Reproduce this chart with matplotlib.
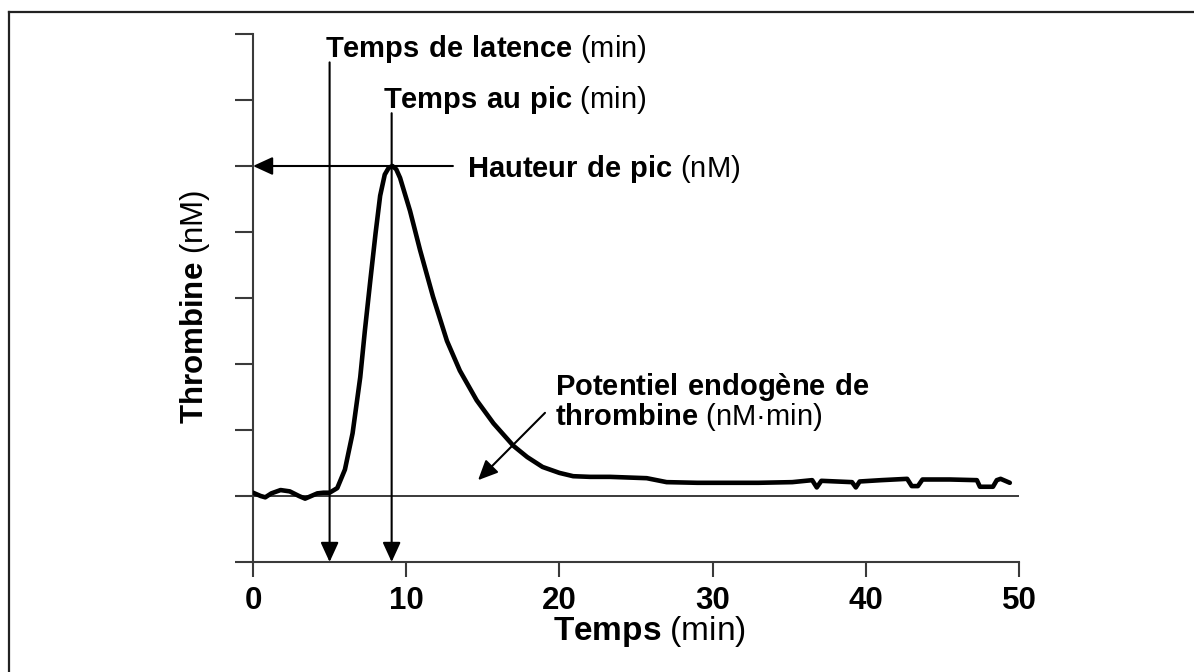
import matplotlib
matplotlib.use("Agg")
import matplotlib.pyplot as plt
from matplotlib.lines import Line2D

plt.rcParams['font.family'] = ['Liberation Sans', 'DejaVu Sans']
plt.rcParams['mathtext.fontset'] = 'custom'
plt.rcParams['mathtext.rm'] = 'Liberation Sans'
plt.rcParams['mathtext.bf'] = 'Liberation Sans:bold'

# courbe de génération de thrombine
temps = [0, 0.5, 0.8, 1.2, 1.8, 2.4, 3.0, 3.4, 3.8, 4.2, 4.6, 5.0, 5.5, 6.0, 6.5,
         7.0, 7.3, 7.65, 8.0, 8.3, 8.6, 8.85, 9.1, 9.35, 9.6, 10.25, 10.9, 11.75,
         12.66, 13.5, 14.6, 15.7, 17.0, 17.9, 18.9, 20.0, 20.9, 22.0, 23.3, 24.5,
         25.7, 27.0, 29.0, 30.9, 33.0, 35.2, 36.5, 36.8, 37.1, 39.1, 39.35, 39.6,
         41.0, 42.7, 43.0, 43.4, 43.7, 45.5, 47.25, 47.45, 48.3, 48.55, 48.8, 49.4]
thrombine = [0.05, 0.0, -0.02, 0.04, 0.09, 0.07, 0.0, -0.04, 0.0, 0.04, 0.05, 0.05,
             0.12, 0.4, 0.95, 1.8, 2.5, 3.25, 3.98, 4.55, 4.87, 4.97, 5.0, 4.95,
             4.82, 4.32, 3.73, 3.02, 2.35, 1.9, 1.45, 1.1, 0.76, 0.59, 0.44, 0.35,
             0.30, 0.29, 0.29, 0.28, 0.27, 0.21, 0.20, 0.20, 0.20, 0.21, 0.24, 0.13,
             0.23, 0.21, 0.13, 0.22, 0.24, 0.26, 0.15, 0.15, 0.25, 0.25, 0.24, 0.14,
             0.14, 0.24, 0.26, 0.20]

x_ticks = [0, 10, 20, 30, 40, 50]
y_ticks = [-1, 0, 1, 2, 3, 4, 5, 6, 7]

t_latence = 5.0
t_pic = 9.05
h_pic = 5.0

gris = '#3a3a3a'

fig = plt.figure(figsize=(11.94, 6.72), dpi=100)
ax = fig.add_axes([253/1194, 110/672, 766/1194, 528/672])

ax.plot(temps, thrombine, color='black', lw=3.3, solid_capstyle='round',
        solid_joinstyle='round', zorder=3)
ax.axhline(0, color=gris, lw=1.4, zorder=1)

ax.set_xlim(0, 50)
ax.set_ylim(-1, 7)
for s in ['top', 'right']:
    ax.spines[s].set_visible(False)
for s in ['left', 'bottom']:
    ax.spines[s].set_color(gris)
    ax.spines[s].set_linewidth(1.5)

ax.set_yticks(y_ticks)
ax.set_yticklabels([])
ax.tick_params(axis='y', length=13, width=1.5, color=gris, direction='out')
ax.set_xticks(x_ticks)
ax.set_xticklabels([str(v) for v in x_ticks], fontsize=22.5, fontweight='bold')
ax.tick_params(axis='x', length=11, width=1.5, color=gris, direction='out', pad=6)

# flèches
fleche = dict(arrowstyle='-|>,head_length=12,head_width=5.5', color='black',
              lw=1.5, shrinkA=0, shrinkB=0, mutation_scale=1)
ax.annotate('', xy=(t_latence, -1), xytext=(t_latence, 6.57), arrowprops=fleche)
ax.annotate('', xy=(t_pic, -1), xytext=(t_pic, 5.8), arrowprops=fleche)
ax.annotate('', xy=(0, h_pic), xytext=(13.05, h_pic), arrowprops=fleche)
ax.annotate('', xy=(14.69, 0.24), xytext=(19.06, 1.26), arrowprops=fleche)

# textes
fs = 21
ax.text(4.7, 6.65, r'$\mathbf{Temps\ de\ latence}$ (min)', fontsize=fs, va='baseline')
ax.text(8.49, 5.88, r'$\mathbf{Temps\ au\ pic}$ (min)', fontsize=fs, va='baseline')
ax.text(13.97, 4.83, r'$\mathbf{Hauteur\ de\ pic}$ (nM)', fontsize=fs, va='baseline')
ax.text(19.71, 1.53, r'$\mathbf{Potentiel\ endogène\ de}$', fontsize=fs, va='baseline')
ax.text(19.71, 1.07, r'$\mathbf{thrombine}$ (nM·min)', fontsize=fs, va='baseline')

fig.text(649/1194, 1 - 640/672, r'$\mathbf{Temps}$ (min)', fontsize=24,
         ha='center', va='baseline')
fig.text(195/1194, 1 - 307/672, r'$\mathbf{Thrombine}$ (nM)', fontsize=22.5,
         rotation=90, ha='center', va='center')

# cadre
fig.add_artist(Line2D([8.5/1194, 8.5/1194], [0, 1 - 12/672], color='#222', lw=1.6))
fig.add_artist(Line2D([8.5/1194, 1], [1 - 12/672, 1 - 12/672], color='#222', lw=1.6))

fig.savefig('out.png', dpi=100)
